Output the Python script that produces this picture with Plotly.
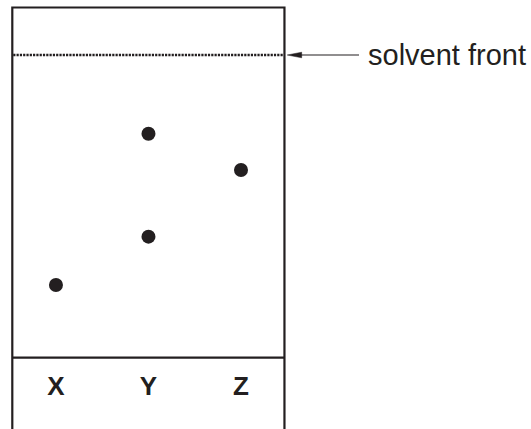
import plotly.graph_objects as go

# ---- data ----
lanes = ["X", "Y", "Z"]
lane_index = [0, 1, 2]
spot_lane = [0, 1, 1, 2]          # lane index of each spot
spot_rf = [0.24, 0.40, 0.74, 0.62]  # distance from baseline / distance to solvent front
front_label = "solvent front"

INK = "#231f20"

# ---- geometry (data units: lanes on x, Rf on y) ----
x_range = [-0.605, 5.135]
y_range = [-0.2355, 1.1817]
box_left, box_right = -0.472, 2.470
box_top = 1.157
baseline = 0.0
front = 1.0
label_y = -0.103

fig = go.Figure()

# spots
fig.add_trace(go.Scatter(
    x=spot_lane, y=spot_rf, mode="markers",
    marker=dict(size=14, color=INK, line=dict(width=0)),
    hoverinfo="skip", showlegend=False,
))

# lane labels
fig.add_trace(go.Scatter(
    x=lane_index, y=[label_y] * len(lanes), mode="text", text=lanes,
    textfont=dict(family="Liberation Sans", size=26, color=INK, weight="bold"),
    textposition="middle center",
    hoverinfo="skip", showlegend=False,
))

shapes = []
# box (left, top, right) extending below the figure
shapes.append(dict(
    type="path", xref="x", yref="y",
    path=f"M {box_left},{y_range[0]} L {box_left},{box_top} L {box_right},{box_top} L {box_right},{y_range[0]}",
    line=dict(color=INK, width=2.2),
))
# baseline
shapes.append(dict(type="line", xref="x", yref="y",
                   x0=box_left, x1=box_right, y0=baseline, y1=baseline,
                   line=dict(color=INK, width=2.2)))
# solvent front (dotted)
shapes.append(dict(type="line", xref="x", yref="y",
                   x0=box_left + 0.01, x1=box_right - 0.01, y0=front, y1=front,
                   line=dict(color=INK, width=2.3, dash="2.2px,1.1px")))

# arrow pointing to solvent front
tip_x = 2.500
head_x = 2.656
tail_x = 3.276
half_w = 0.0092
shapes.append(dict(type="line", xref="x", yref="y",
                   x0=head_x - 0.02, x1=tail_x, y0=front, y1=front,
                   line=dict(color=INK, width=1.2)))
shapes.append(dict(
    type="path", xref="x", yref="y",
    path=f"M {tip_x},{front} L {head_x},{front + half_w} L {head_x},{front - half_w} Z",
    fillcolor=INK, line=dict(color=INK, width=0.5),
))

fig.update_layout(
    width=531, height=429,
    margin=dict(l=0, r=0, t=0, b=0),
    paper_bgcolor="white", plot_bgcolor="white",
    xaxis=dict(range=x_range, visible=False, fixedrange=True),
    yaxis=dict(range=y_range, visible=False, fixedrange=True),
    shapes=shapes,
    annotations=[dict(
        x=3.355, y=front, xref="x", yref="y",
        text=front_label, showarrow=False,
        xanchor="left", yanchor="middle",
        font=dict(family="Liberation Sans", size=29, color=INK),
    )],
)

fig.write_html(
    "out.html",
    config={"displayModeBar": False},
    post_script="document.body.style.margin='0';document.body.style.overflow='hidden';",
)
